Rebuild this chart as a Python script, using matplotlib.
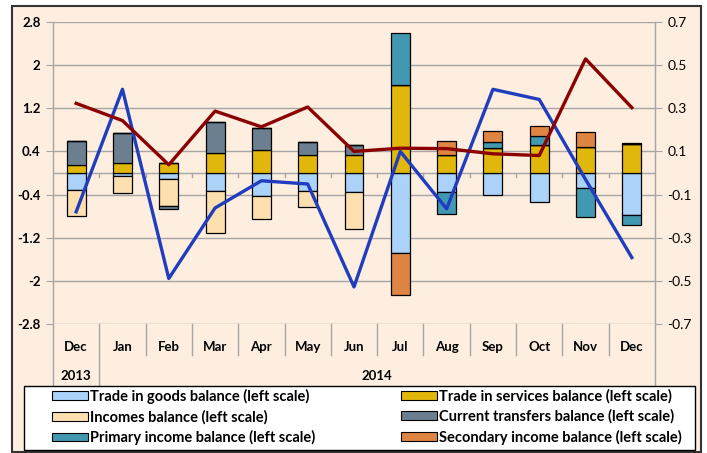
import matplotlib.pyplot as plt
import matplotlib.transforms as mtransforms
from matplotlib.patches import Rectangle, Patch
import numpy as np

plt.rcParams['font.family'] = ['Lato', 'DejaVu Sans']

# months and years
months = ['Dec', 'Jan', 'Feb', 'Mar', 'Apr', 'May', 'Jun', 'Jul', 'Aug', 'Sep', 'Oct', 'Nov', 'Dec']
years = ['2013', '2014']

nan = np.nan
# bar series (left scale)
goods = [-0.32, -0.06, -0.12, -0.34, -0.43, -0.34, -0.35, -1.48, -0.35, -0.40, -0.54, -0.27, -0.77]
services = [0.14, 0.18, 0.18, 0.37, 0.43, 0.34, 0.34, 1.63, 0.34, 0.46, 0.51, 0.49, 0.54]
incomes = [-0.47, -0.31, -0.50, -0.77, -0.43, -0.29, -0.68, nan, nan, nan, nan, nan, nan]
transfers = [0.46, 0.57, -0.05, 0.57, 0.40, 0.24, 0.17, nan, nan, nan, nan, nan, nan]
primary = [nan, nan, nan, nan, nan, nan, nan, 0.97, -0.41, 0.11, 0.17, -0.54, -0.19]
secondary = [nan, nan, nan, nan, nan, nan, nan, -0.78, 0.25, 0.21, 0.20, 0.27, 0.01]

# line series (right scale)
red_line = [0.323, 0.243, 0.038, 0.287, 0.214, 0.306, 0.100, 0.115, 0.113, 0.089, 0.081, 0.529, 0.303]
blue_line = [-0.18, 0.388, -0.489, -0.162, -0.036, -0.051, -0.528, 0.100, -0.166, 0.388, 0.341, -0.03, -0.392]

series = [
    ('Trade in goods balance (left scale)', goods, '#ABD3FA'),
    ('Trade in services balance (left scale)', services, '#E1B70C'),
    ('Incomes balance (left scale)', incomes, '#FDDFB0'),
    ('Current transfers balance (left scale)', transfers, '#6B7F90'),
    ('Primary income balance (left scale)', primary, '#4298B1'),
    ('Secondary income balance (left scale)', secondary, '#DE8544'),
]

bg = '#FDEEE0'
grid_c = '#A6A6A6'

fig = plt.figure(figsize=(7.07, 4.53), dpi=100, facecolor='white')
fig.patches.append(Rectangle((12 / 707, 1 - 452 / 453), 689 / 707, 446 / 453,
                             transform=fig.transFigure, facecolor=bg,
                             edgecolor='#333333', linewidth=1.5, zorder=-10))

ax = fig.add_axes([53 / 707, 1 - 324 / 453, 602 / 707, 302 / 453])
ax.set_facecolor(bg)
ax.patch.set_alpha(0)
ax2 = ax.twinx()

x = np.arange(len(months))
width = 0.41

pos_base = np.zeros(len(x))
neg_base = np.zeros(len(x))
handles = []
for label, vals, color in series:
    v = np.nan_to_num(np.array(vals, dtype=float))
    base = np.where(v >= 0, pos_base, neg_base)
    ax.bar(x, v, width, bottom=base, color=color, edgecolor='black', linewidth=0.9, zorder=3)
    pos_base = pos_base + np.where(v > 0, v, 0)
    neg_base = neg_base + np.where(v < 0, v, 0)
    handles.append(Patch(facecolor=color, edgecolor='black', linewidth=0.8, label=label))

ax2.plot(x, blue_line, color='#1F3DBE', lw=2.4, zorder=4)
ax2.plot(x, red_line, color='#8B0000', lw=2.4, zorder=4)

# axes ranges and ticks
ax.set_xlim(-0.5, len(x) - 0.5)
ax.set_ylim(-2.8, 2.8)
ax2.set_ylim(-0.7, 0.7)
ax.set_yticks([2.8, 2, 1.2, 0.4, -0.4, -1.2, -2, -2.8])
ax.set_yticklabels(['2.8', '2', '1.2', '0.4', '-0.4', '-1.2', '-2', '-2.8'], fontweight='bold', fontsize=9.5)
ax2.set_yticks([0.7, 0.5, 0.3, 0.1, -0.1, -0.3, -0.5, -0.7])
ax2.set_yticklabels(['0.7', '0.5', '0.3', '0.1', '-0.1', '-0.3', '-0.5', '-0.7'], fontsize=10)
ax.tick_params(axis='y', length=5, color=grid_c, pad=4)
ax2.tick_params(axis='y', length=5, color=grid_c, pad=4)
ax.set_xticks([])
for a in (ax, ax2):
    for s in a.spines.values():
        s.set_visible(False)
ax.yaxis.grid(True, color=grid_c, lw=1)
ax.set_axisbelow(True)
ax.axhline(0, color=grid_c, lw=1, zorder=2)

# small tick marks on the zero line
for b in np.arange(0.5, len(x) - 0.5, 1):
    ax.plot([b, b], [0, -0.07], color=grid_c, lw=1, zorder=2)

# category axis below plot
tr = mtransforms.blended_transform_factory(ax.transData, ax.transAxes)
ax.plot([-0.5, -0.5], [1, -0.205], transform=tr, color=grid_c, lw=1, clip_on=False)
ax.plot([len(x) - 0.5, len(x) - 0.5], [1, -0.205], transform=tr, color=grid_c, lw=1, clip_on=False)
for i, m in enumerate(months):
    ax.text(i, -0.075, m, transform=tr, ha='center', va='center', fontsize=9.5, fontweight='bold')
    if i > 0:
        low = -0.205 if i == 1 else -0.103
        ax.plot([i - 0.5, i - 0.5], [0, low], transform=tr, color=grid_c, lw=1, clip_on=False)
ax.text(0, -0.172, years[0], transform=tr, ha='center', va='center', fontsize=9.5, fontweight='bold')
ax.text((1 + len(x) - 1) / 2, -0.172, years[1], transform=tr, ha='center', va='center', fontsize=9.5, fontweight='bold')

# legend: white box with two columns of entries
fig.patches.append(Rectangle((24 / 707, 1 - 450 / 453), 671 / 707, 64 / 453,
                             transform=fig.transFigure, facecolor='white',
                             edgecolor='black', linewidth=1.0, zorder=5))
for col, x0 in ((0, 49), (1, 398)):
    hs = handles[col::2]
    lg = fig.legend(hs, [h.get_label() for h in hs], loc='upper left',
                    bbox_to_anchor=(x0 / 707, 1 - 386 / 453),
                    prop={'weight': 'bold', 'size': 10.5}, frameon=False,
                    handlelength=2.5, handleheight=0.55, handletextpad=0.08,
                    labelspacing=0.4, borderpad=0.2, borderaxespad=0)
    lg.set_zorder(6)

fig.savefig('out.png', dpi=100, facecolor='white')
